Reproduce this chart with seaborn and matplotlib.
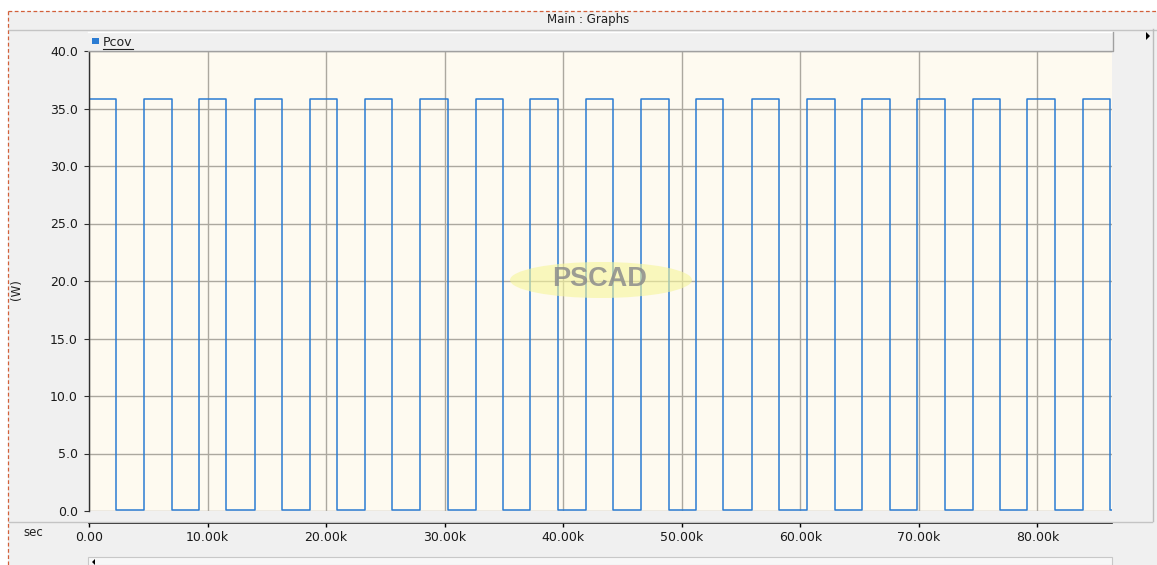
import numpy as np
import pandas as pd
import matplotlib
matplotlib.use("Agg")
import matplotlib.pyplot as plt
from matplotlib.patches import Rectangle, Ellipse, Polygon
from matplotlib.lines import Line2D
import seaborn as sns

# switching instants of the Pcov trace (k sec)
rise_times = [0.0, 4.68, 9.32, 14.00, 18.61, 23.31, 27.89, 32.62, 37.23, 41.93,
              46.60, 51.22, 55.94, 60.55, 65.25, 69.87, 74.56, 79.15, 83.84]
fall_times = [2.27, 6.96, 11.52, 16.28, 20.95, 25.59, 30.25, 34.89, 39.57, 44.18,
              48.90, 53.52, 58.19, 62.91, 67.53, 72.23, 76.81, 81.51, 86.12]
p_high = 35.85
p_low = 0.1
t_end = 86.3

y_ticks = [0, 5, 10, 15, 20, 25, 30, 35, 40]
x_ticks = [0, 10, 20, 30, 40, 50, 60, 70, 80]
series_name = "Pcov"

# build step table
t_vals = []
p_vals = []
for r, f in zip(rise_times, fall_times):
    t_vals += [r, f]
    p_vals += [p_high, p_low]
t_vals.append(t_end)
p_vals.append(p_low)
df = pd.DataFrame({"t": t_vals, "P": p_vals})

W, H = 1157, 565
fig = plt.figure(figsize=(W / 100, H / 100), dpi=100)
fig.patch.set_facecolor("white")


def fx(x):
    return x / W


def fy(y):
    return 1 - y / H


# window background and frame
fig.patches.append(Rectangle((fx(8), 0), 1 - fx(8), fy(11), transform=fig.transFigure,
                             fc="#f0f0f0", ec="none", zorder=-10))
fig.lines.append(Line2D([fx(8), 1], [fy(10.5), fy(10.5)], transform=fig.transFigure,
                        color="#d2603a", lw=0.9, ls=(0, (3, 2))))
fig.lines.append(Line2D([fx(8), fx(8)], [fy(11), 0], transform=fig.transFigure,
                        color="#d2603a", lw=0.9, ls=(0, (3, 2))))
fig.lines.append(Line2D([fx(9), 1], [fy(29.5), fy(29.5)], transform=fig.transFigure,
                        color="#c4c4c4", lw=1))
fig.lines.append(Line2D([fx(1152.5), fx(1152.5)], [fy(29), fy(521)], transform=fig.transFigure,
                        color="#bcbcbc", lw=1))
fig.lines.append(Line2D([fx(9), fx(1152)], [fy(521.5), fy(521.5)], transform=fig.transFigure,
                        color="#c4c4c4", lw=1))
fig.text(fx(588), fy(20), "Main : Graphs", ha="center", va="center", fontsize=8.5, color="#202020")
fig.patches.append(Polygon([[fx(1146), fy(32)], [fx(1146), fy(40)], [fx(1150), fy(36)]],
                           closed=True, transform=fig.transFigure, fc="black", ec="none"))

# legend header bar
fig.patches.append(Rectangle((fx(88), fy(50.5)), fx(1112.5) - fx(88), fy(31.5) - fy(50.5),
                             transform=fig.transFigure, fc="#f0f0f0", ec="none"))
fig.lines.append(Line2D([fx(88), fx(1112.5)], [fy(31.5), fy(31.5)], transform=fig.transFigure,
                        color="white", lw=1))
fig.lines.append(Line2D([fx(88), fx(1112.5), fx(1112.5)], [fy(50.5), fy(50.5), fy(31.5)],
                        transform=fig.transFigure, color="#a0a0a0", lw=1))
fig.patches.append(Rectangle((fx(92), fy(44)), fx(7), fy(0) - fy(6), transform=fig.transFigure,
                             fc="#2b7cd3", ec="none"))
fig.text(fx(103), fy(42), series_name, ha="left", va="center", fontsize=9, color="#202020")
fig.lines.append(Line2D([fx(103), fx(133)], [fy(48.5), fy(48.5)], transform=fig.transFigure,
                        color="#202020", lw=0.8))

# bottom scrollbar
fig.patches.append(Rectangle((fx(88), 0), fx(1112) - fx(88), fy(557) - fy(565),
                             transform=fig.transFigure, fc="#f7f7f7", ec="#c8c8c8", lw=0.8))
fig.patches.append(Polygon([[fx(95), fy(559)], [fx(95), fy(565)], [fx(92), fy(562)]],
                           closed=True, transform=fig.transFigure, fc="black", ec="none"))

# plot area
ax = fig.add_axes([fx(89), fy(511), fx(1112) - fx(89), fy(51) - fy(511)])
ax.set_facecolor("#fefaf0")
ax.set_axisbelow(True)
ax.grid(True, color="#aca89f", lw=1.0)

sns.lineplot(data=df, x="t", y="P", drawstyle="steps-post", estimator=None,
             color="#2b7cd3", lw=1.1, ax=ax, legend=False)

ax.set_xlim(0, t_end)
ax.set_ylim(0, 40)
ax.set_xticks(x_ticks)
ax.set_xticklabels(["0.00" if v == 0 else f"{v:.2f}k" for v in x_ticks])
ax.set_yticks(y_ticks)
ax.set_yticklabels([f"{v:.1f}" for v in y_ticks])
ax.set_xlabel("")
ax.set_ylabel("")

for s in ["top", "right"]:
    ax.spines[s].set_visible(False)
ax.spines["left"].set_color("#303030")
ax.spines["left"].set_linewidth(1)
ax.spines["bottom"].set_position(("outward", 8.6))
ax.spines["bottom"].set_color("black")
ax.spines["bottom"].set_linewidth(1.2)
ax.tick_params(axis="y", direction="out", length=3.6, width=0.8, pad=4.3,
               labelsize=9, labelcolor="#1a1a1a", color="#303030")
ax.tick_params(axis="x", direction="out", length=3, width=1, pad=2.5,
               labelsize=9, labelcolor="#1a1a1a", color="black")

fig.text(fx(17), fy(290), "(W)", rotation=90, ha="center", va="center", fontsize=8.5, color="#202020")
fig.text(fx(33), fy(532), "sec", ha="center", va="center", fontsize=8.5, color="#202020")

# PSCAD watermark
fig.patches.append(Ellipse((fx(601), fy(280)), 182 / W, 36 / H, transform=fig.transFigure,
                           fc="#f6f69a", ec="none", alpha=0.6, zorder=5))
fig.text(fx(600), fy(279), "PSCAD", ha="center", va="center", fontsize=19.5, fontweight="bold",
         family="Liberation Sans", color="#8c8c8c", alpha=0.85, zorder=6)

fig.savefig("out.png", dpi=100, facecolor=fig.get_facecolor())
